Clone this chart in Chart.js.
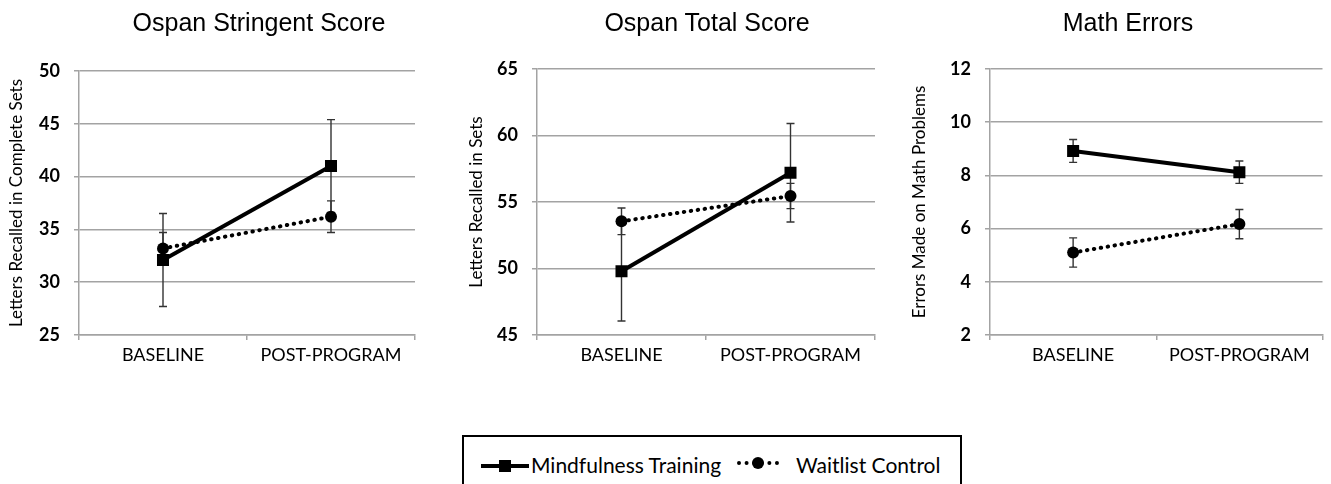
<!DOCTYPE html>
<html>
<head>
<meta charset="utf-8">
<script src="https://cdn.jsdelivr.net/npm/chart.js@4.4.0/dist/chart.umd.min.js"></script>
<style>
  html, body { margin: 0; padding: 0; background: #fff; }
  #page { position: relative; width: 1331px; height: 484px; overflow: hidden; }
  .panel { position: absolute; top: 0; height: 400px; }
  .title { position: absolute; width: 400px; text-align: center; top: 10px; font: 25px "Liberation Sans", Arial, sans-serif; line-height: 25px; color: #000; }
  #legend { position: absolute; left: 462px; top: 435px; width: 496px; height: 60px; border: 2px solid #000; font: 21px Lato, sans-serif; color: #000; }
  .lg { position: absolute; top: 15px; white-space: nowrap; }
  .sym { position: absolute; }
</style>
</head>
<body>
<div id="page">
  <div class="panel" style="left:0;width:430px"><canvas id="c1"></canvas></div>
  <div class="panel" style="left:450px;width:440px"><canvas id="c2"></canvas></div>
  <div class="panel" style="left:900px;width:431px"><canvas id="c3"></canvas></div>
  <div class="title" style="left:59px">Ospan Stringent Score</div>
  <div class="title" style="left:507px">Ospan Total Score</div>
  <div class="title" style="left:928px">Math Errors</div>
  <div id="legend">
    <div class="sym" style="left:17px;top:27px;width:48px;height:4px;background:#000"></div>
    <div class="sym" style="left:35px;top:23px;width:12px;height:12px;background:#000"></div>
    <div class="lg" style="left:67px">Mindfulness Training</div>
    <div class="sym" style="left:273px;top:24px;width:42px;height:0;border-top:4px dotted #000"></div>
    <div class="sym" style="left:288px;top:20px;width:12px;height:12px;border-radius:50%;background:#000"></div>
    <div class="lg" style="left:332px">Waitlist Control</div>
  </div>
</div>
<script>
// Mindfulness training vs waitlist control: three small panels with error bars

const groups = ["BASELINE", "POST-PROGRAM"];

// Ospan stringent score
const stringentMindful = [32.1, 41.0];
const stringentMindfulErr = [4.4, 4.4];
const stringentWaitlist = [33.2, 36.2];
const stringentWaitlistErr = [1.5, 1.5];
const stringentTicks = [25, 50, 5];

// Ospan total score
const totalMindful = [49.8, 57.2];
const totalMindfulErr = [3.75, 3.7];
const totalWaitlist = [53.55, 55.45];
const totalWaitlistErr = [1.0, 0.95];
const totalTicks = [45, 65, 5];

// Math errors
const mathMindful = [8.92, 8.12];
const mathMindfulErr = [0.43, 0.42];
const mathWaitlist = [5.1, 6.17];
const mathWaitlistErr = [0.55, 0.55];
const mathTicks = [2, 12, 2];

const GRID = "#a3a3a3";
const ERR = "#333";

const errorBars = {
  id: "errorBars",
  beforeDatasetsDraw(chart) {
    const ctx = chart.ctx;
    const y = chart.scales.y;
    ctx.save();
    ctx.strokeStyle = ERR;
    ctx.lineWidth = 1.4;
    chart.data.datasets.forEach((ds, i) => {
      const meta = chart.getDatasetMeta(i);
      meta.data.forEach((pt, j) => {
        const v = ds.data[j], e = ds.err[j];
        const top = y.getPixelForValue(v + e);
        const bot = y.getPixelForValue(v - e);
        ctx.beginPath();
        ctx.moveTo(pt.x, top); ctx.lineTo(pt.x, bot);
        ctx.moveTo(pt.x - 4, top); ctx.lineTo(pt.x + 4, top);
        ctx.moveTo(pt.x - 4, bot); ctx.lineTo(pt.x + 4, bot);
        ctx.stroke();
      });
    });
    ctx.restore();
  }
};

function makePanel(id, yTitle, mindful, mindfulErr, waitlist, waitlistErr, ticks, box) {
  new Chart(document.getElementById(id), {
    type: "line",
    data: {
      labels: groups,
      datasets: [
        {
          label: "Waitlist Control", data: waitlist, err: waitlistErr,
          borderColor: "#000", borderWidth: 4, borderDash: [0.5, 6.5], borderCapStyle: "round",
          pointStyle: "circle", pointRadius: 6, pointBackgroundColor: "#000", pointBorderWidth: 0
        },
        {
          label: "Mindfulness Training", data: mindful, err: mindfulErr,
          borderColor: "#000", borderWidth: 4,
          pointStyle: "rect", pointRadius: 8.5, pointBackgroundColor: "#000", pointBorderWidth: 0
        }
      ]
    },
    options: {
      responsive: true,
      maintainAspectRatio: false,
      animation: false,
      layout: { padding: { top: box.top, right: box.right, bottom: 25, left: 0 } },
      plugins: { legend: { display: false }, tooltip: { enabled: false } },
      scales: {
        x: {
          offset: true,
          afterFit: (s) => { s.height = 40; },
          grid: { offset: true, drawOnChartArea: false, tickLength: 5, color: GRID, lineWidth: 1.5 },
          border: { color: GRID, width: 1.5 },
          ticks: { color: "#000", padding: 4, font: { family: "Lato", size: 18 } }
        },
        y: {
          min: ticks[0], max: ticks[1],
          afterFit: (s) => { s.width = box.left; },
          grid: { color: GRID, lineWidth: 1.5, tickLength: 5 },
          border: { color: GRID, width: 1.5 },
          ticks: { stepSize: ticks[2], color: "#000", padding: 14, font: { family: "Lato", size: 18, weight: "bold" } },
          title: { display: true, text: yTitle, color: "#000", padding: { top: box.titlePad, bottom: 0 }, font: { family: "Lato", size: 17 } }
        }
      }
    },
    plugins: [errorBars]
  });
}

makePanel("c1", "Letters Recalled in Complete Sets", stringentMindful, stringentMindfulErr,
  stringentWaitlist, stringentWaitlistErr, stringentTicks, { left: 79, right: 15, top: 71, titlePad: 6 });
makePanel("c2", "Letters Recalled in Sets", totalMindful, totalMindfulErr,
  totalWaitlist, totalWaitlistErr, totalTicks, { left: 87, right: 15, top: 69, titlePad: 16 });
makePanel("c3", "Errors Made on Math Problems", mathMindful, mathMindfulErr,
  mathWaitlist, mathWaitlistErr, mathTicks, { left: 90, right: 2, top: 69, titlePad: 9 });
</script>
</body>
</html>
